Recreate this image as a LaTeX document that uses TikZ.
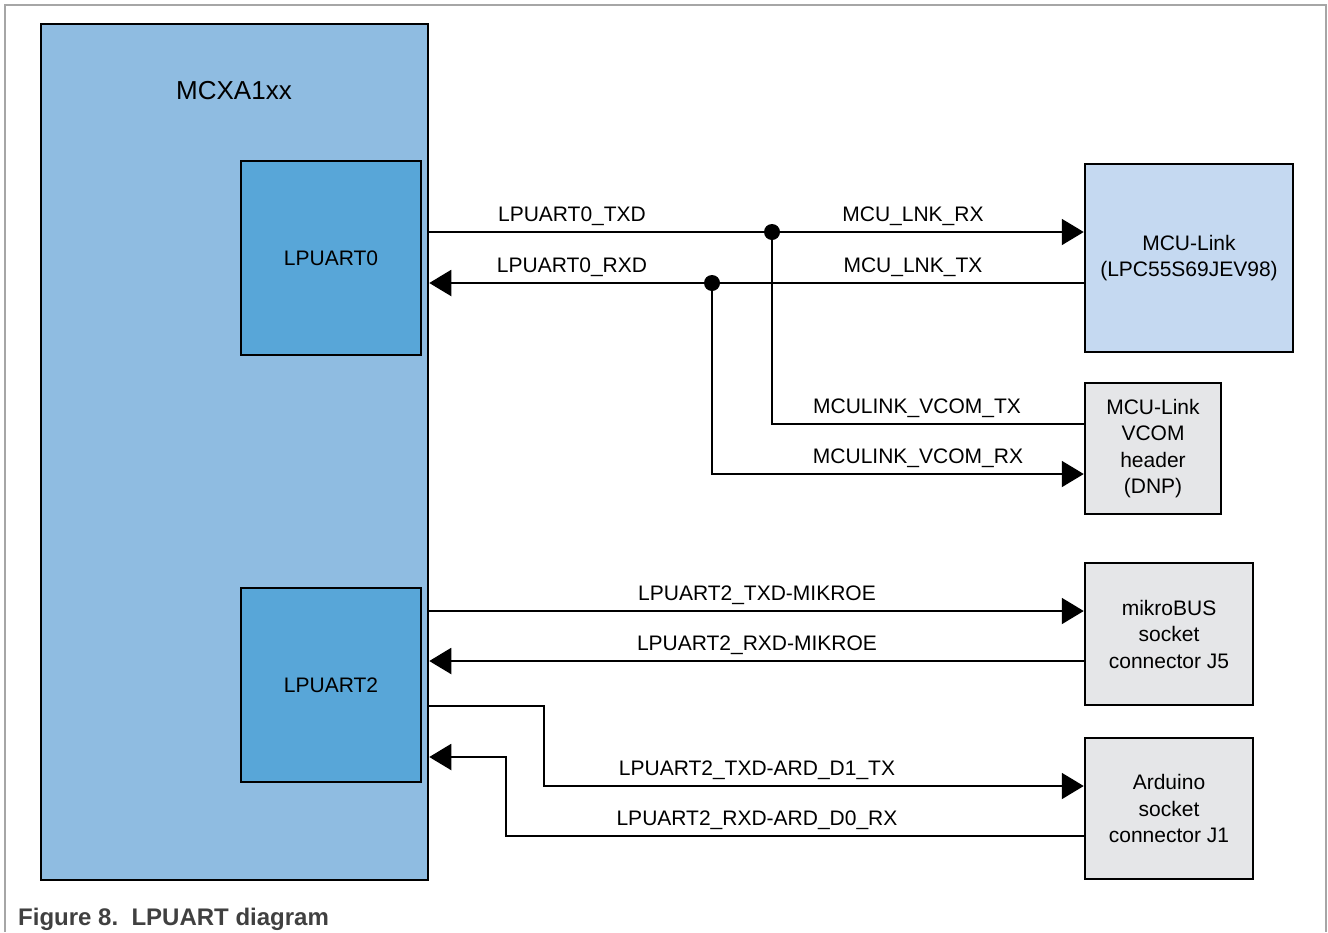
\documentclass[tikz,border=0pt]{standalone}
\usepackage{fontspec}
\setmainfont{Liberation Sans}
\usetikzlibrary{arrows.meta, positioning}
\definecolor{chipblue}{HTML}{8FBCE1}
\definecolor{uartblue}{HTML}{58A6D8}
\definecolor{linkblue}{HTML}{C5D9F1}
\definecolor{hdrgray}{HTML}{E5E6E8}
\definecolor{framegray}{HTML}{A6A6A6}
\definecolor{capgray}{HTML}{404040}

\begin{document}
\begin{tikzpicture}[
  x=1pt, y=-1pt,
  blk/.style = {
    rectangle, draw=black, line width=2.5pt,
    inner sep=0pt, align=center,
    font=\fontsize{21}{26.5}\selectfont
  },
  sig/.style = {line width=2pt},
  arr/.style = {sig, -{Triangle[length=22pt, width=26pt]}},
  lbl/.style = {anchor=base, inner sep=0pt, font=\fontsize{21}{25}\selectfont},
  junc/.style = {circle, fill=black, inner sep=0pt, minimum size=16pt}
]
  \useasboundingbox (0,0) rectangle (1328,932);
  \draw[framegray, line width=1.5pt] (5,932) |- (1326,5) -- (1326,932);

  % MCU and its UARTs
  \node[blk, fill=chipblue, minimum width=387pt, minimum height=856pt] (mcxa) at (234.5,452) {};
  \node[font=\fontsize{26}{30}\selectfont] (mcxalbl) at (234,91) {MCXA1xx};
  \node[blk, fill=uartblue, minimum width=180pt, minimum height=194pt] (uart0) at (331,258) {LPUART0};
  \node[blk, fill=uartblue, minimum width=180pt, minimum height=194pt] (uart2) at (331,685) {LPUART2};

  % targets
  \node[blk, fill=linkblue, minimum width=208pt, minimum height=188pt] (mculink) at (1189,258)
    {MCU-Link\\(LPC55S69JEV98)};
  \node[blk, fill=hdrgray, minimum width=136pt, minimum height=131pt] (vcom) at (1153,448.5)
    {MCU-Link\\VCOM\\header\\(DNP)};
  \node[blk, fill=hdrgray, minimum width=168pt, minimum height=142pt] (mikro) at (1169,634)
    {mikroBUS\\socket\\connector J5};
  \node[blk, fill=hdrgray, minimum width=168pt, minimum height=141pt] (ardu) at (1169,808.5)
    {Arduino\\socket\\connector J1};

  % signal rows
  \coordinate (tx0) at (0,232);
  \coordinate (rx0) at (0,283);
  \coordinate (vtx) at (0,424);
  \coordinate (vrx) at (0,474);
  \coordinate (tx2) at (0,611);
  \coordinate (rx2) at (0,661);
  \coordinate (tx2b) at (544,706);
  \coordinate (tx2c) at (544,786);
  \coordinate (rx2b) at (506,757);
  \coordinate (rx2c) at (506,836);

  \node[junc] (j1) at (772,232) {};
  \node[junc] (j2) at (712,283) {};

  \draw[arr] (mcxa.east |- tx0) -- (mculink.west |- tx0);
  \draw[arr] (mculink.west |- rx0) -- (mcxa.east |- rx0);
  \draw[sig] (j1.center) |- (vcom.west |- vtx);
  \draw[arr] (j2.center) |- (vcom.west |- vrx);
  \draw[arr] (mcxa.east |- tx2) -- (mikro.west |- tx2);
  \draw[arr] (mikro.west |- rx2) -- (mcxa.east |- rx2);
  \draw[arr] (mcxa.east |- tx2b) -- (tx2b) |- (ardu.west |- tx2c);
  \draw[arr] (ardu.west |- rx2c) -| (rx2b) -- (mcxa.east |- rx2b);

  \node[lbl] (l1) at (572,221) {LPUART0\_TXD};
  \node[lbl] (l2) at (913,221) {MCU\_LNK\_RX};
  \node[lbl] (l3) at (572,272) {LPUART0\_RXD};
  \node[lbl] (l4) at (913,272) {MCU\_LNK\_TX};
  \node[lbl] (l5) at (917,413) {MCULINK\_VCOM\_TX};
  \node[lbl] (l6) at (918,463) {MCULINK\_VCOM\_RX};
  \node[lbl] (l7) at (757,600) {LPUART2\_TXD-MIKROE};
  \node[lbl] (l8) at (757,650) {LPUART2\_RXD-MIKROE};
  \node[lbl] (l9) at (757,775) {LPUART2\_TXD-ARD\_D1\_TX};
  \node[lbl] (l10) at (757,825) {LPUART2\_RXD-ARD\_D0\_RX};

  \node[anchor=base west, inner sep=0pt, text=capgray,
    font=\fontsize{24}{28}\selectfont\bfseries] (cap) at (18,925) {Figure 8.\ \ LPUART diagram};
\end{tikzpicture}
\end{document}
